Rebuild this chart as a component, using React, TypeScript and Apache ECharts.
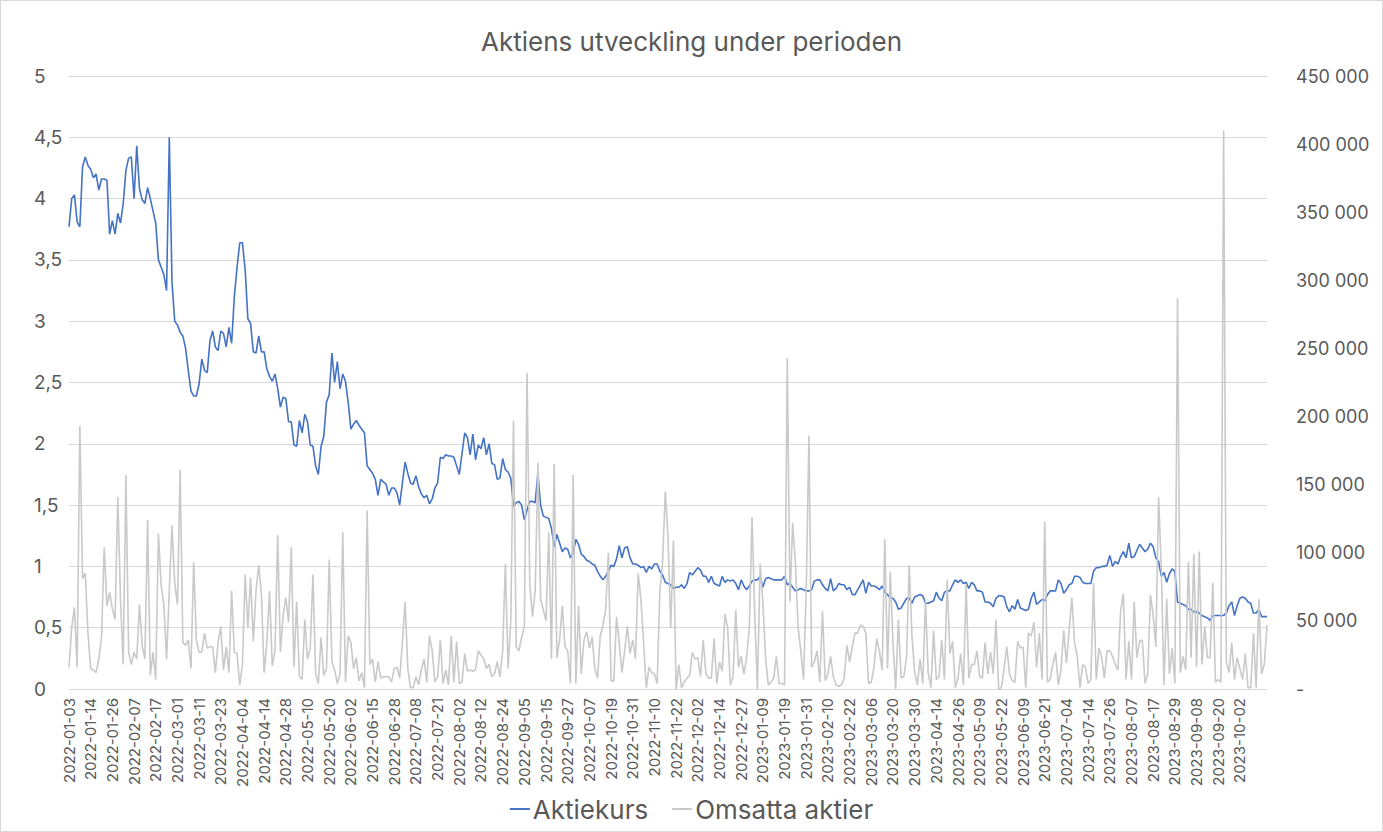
import React, { useEffect, useRef } from "react";
import * as echarts from "echarts";

const chartTitle = "Aktiens utveckling under perioden";
const seriesNames = ["Aktiekurs", "Omsatta aktier"];

// Dates shown on the x axis (every 8th trading day)
const tickDates = [
  "2022-01-03", "2022-01-14", "2022-01-26", "2022-02-07", "2022-02-17", "2022-03-01", "2022-03-11", "2022-03-23",
  "2022-04-04", "2022-04-14", "2022-04-28", "2022-05-10", "2022-05-20", "2022-06-02", "2022-06-15", "2022-06-28",
  "2022-07-08", "2022-07-21", "2022-08-02", "2022-08-12", "2022-08-24", "2022-09-05", "2022-09-15", "2022-09-27",
  "2022-10-07", "2022-10-19", "2022-10-31", "2022-11-10", "2022-11-22", "2022-12-02", "2022-12-14", "2022-12-27",
  "2023-01-09", "2023-01-19", "2023-01-31", "2023-02-10", "2023-02-22", "2023-03-06", "2023-03-20", "2023-03-30",
  "2023-04-14", "2023-04-26", "2023-05-09", "2023-05-22", "2023-06-09", "2023-06-21", "2023-07-04", "2023-07-14",
  "2023-07-26", "2023-08-07", "2023-08-17", "2023-08-29", "2023-09-08", "2023-09-20", "2023-10-02",
];

// Share price (SEK), one value per trading day
const price = [
  3.77, 4.0, 4.03, 3.81, 3.77, 4.26, 4.34, 4.27, 4.24, 4.17,
  4.2, 4.07, 4.16, 4.16, 4.15, 3.71, 3.82, 3.71, 3.88, 3.8,
  3.96, 4.23, 4.33, 4.34, 4.0, 4.43, 4.08, 3.99, 3.96, 4.09,
  4.0, 3.9, 3.8, 3.5, 3.44, 3.38, 3.25, 4.5, 3.32, 3.0,
  2.97, 2.91, 2.88, 2.78, 2.6, 2.43, 2.39, 2.39, 2.49, 2.69,
  2.6, 2.58, 2.84, 2.92, 2.79, 2.76, 2.92, 2.9, 2.79, 2.95,
  2.82, 3.2, 3.44, 3.64, 3.64, 3.42, 3.02, 2.98, 2.75, 2.74,
  2.88, 2.75, 2.75, 2.61, 2.55, 2.51, 2.57, 2.45, 2.3, 2.38,
  2.37, 2.18, 2.18, 1.99, 1.98, 2.19, 2.09, 2.24, 2.18, 1.99,
  1.98, 1.82, 1.75, 1.98, 2.06, 2.34, 2.4, 2.74, 2.5, 2.67,
  2.45, 2.57, 2.51, 2.34, 2.12, 2.16, 2.19, 2.15, 2.12, 2.09,
  1.82, 1.79, 1.76, 1.71, 1.58, 1.71, 1.69, 1.67, 1.58, 1.64,
  1.64, 1.6, 1.5, 1.68, 1.85, 1.76, 1.68, 1.67, 1.74, 1.65,
  1.59, 1.56, 1.58, 1.51, 1.55, 1.64, 1.68, 1.89, 1.88, 1.91,
  1.9, 1.9, 1.89, 1.82, 1.75, 1.92, 2.09, 2.05, 1.91, 2.08,
  1.87, 1.99, 1.96, 2.05, 1.91, 2.0, 1.84, 1.83, 1.71, 1.72,
  1.88, 1.79, 1.77, 1.72, 1.49, 1.52, 1.53, 1.5, 1.38, 1.46,
  1.53, 1.53, 1.52, 1.76, 1.5, 1.41, 1.4, 1.39, 1.31, 1.16,
  1.26, 1.19, 1.12, 1.15, 1.14, 1.07, 1.11, 1.22, 1.18, 1.1,
  1.08, 1.05, 1.04, 1.02, 1.01, 0.96, 0.92, 0.89, 0.92, 0.96,
  1.01, 1.0, 1.06, 1.17, 1.07, 1.15, 1.16, 1.07, 1.02, 1.02,
  1.01, 0.99, 1.0, 0.95, 1.0, 0.98, 1.02, 1.02, 0.96, 0.93,
  0.87, 0.86, 0.85, 0.82, 0.83, 0.83, 0.85, 0.82, 0.86, 0.95,
  0.93, 0.96, 0.99, 0.97, 0.92, 0.92, 0.87, 0.92, 0.86, 0.85,
  0.84, 0.92, 0.87, 0.89, 0.88, 0.89, 0.86, 0.81, 0.89, 0.84,
  0.81, 0.84, 0.88, 0.89, 0.89, 0.92, 0.83, 0.9, 0.91, 0.9,
  0.89, 0.89, 0.89, 0.89, 0.92, 0.85, 0.86, 0.83, 0.8, 0.81,
  0.82, 0.81, 0.8, 0.8, 0.81, 0.88, 0.89, 0.89, 0.85, 0.82,
  0.8, 0.9, 0.8, 0.82, 0.86, 0.85, 0.85, 0.81, 0.83, 0.77,
  0.77, 0.81, 0.85, 0.89, 0.78, 0.87, 0.84, 0.84, 0.83, 0.81,
  0.84, 0.79, 0.77, 0.74, 0.74, 0.71, 0.65, 0.66, 0.7, 0.74,
  0.74, 0.7, 0.75, 0.76, 0.77, 0.76, 0.7, 0.7, 0.71, 0.72,
  0.79, 0.74, 0.72, 0.79, 0.8, 0.8, 0.85, 0.89, 0.87, 0.89,
  0.86, 0.87, 0.82, 0.87, 0.85, 0.8, 0.8, 0.79, 0.71, 0.71,
  0.7, 0.67, 0.74, 0.76, 0.76, 0.75, 0.67, 0.63, 0.68, 0.65,
  0.73, 0.66, 0.65, 0.64, 0.65, 0.74, 0.79, 0.69, 0.71, 0.73,
  0.72, 0.77, 0.8, 0.8, 0.8, 0.89, 0.86, 0.78, 0.81, 0.85,
  0.86, 0.92, 0.92, 0.91, 0.87, 0.86, 0.86, 0.86, 0.96, 0.99,
  0.99, 1.0, 1.0, 1.01, 1.09, 1.0, 1.04, 1.02, 1.08, 1.12,
  1.07, 1.19, 1.07, 1.08, 1.13, 1.18, 1.15, 1.12, 1.14, 1.19,
  1.16, 1.07, 1.04, 0.92, 0.95, 0.87, 0.94, 0.98, 0.96, 0.71,
  0.7, 0.69, 0.68, 0.65, 0.65, 0.63, 0.63, 0.62, 0.6, 0.59,
  0.58, 0.56, 0.6, 0.6, 0.6, 0.6, 0.6, 0.62, 0.68, 0.71,
  0.6, 0.68, 0.74, 0.75, 0.74, 0.71, 0.7, 0.62, 0.62, 0.65,
  0.59, 0.59, 0.59,
];

// Traded shares per day
const volume = [
  16000, 45000, 60000, 16000, 193000, 81000, 85000, 41000, 15000, 14000,
  12000, 22000, 38000, 104000, 61000, 71000, 59000, 51000, 141000, 66000,
  18000, 157000, 27000, 18000, 27000, 22000, 62000, 32000, 22000, 124000,
  10000, 27000, 7000, 114000, 76000, 62000, 22000, 72000, 120000, 78000,
  62000, 161000, 34000, 32000, 36000, 15000, 93000, 36000, 27000, 27000,
  41000, 30000, 31000, 31000, 12000, 34000, 46000, 14000, 31000, 12000,
  72000, 27000, 26000, 3000, 18000, 84000, 45000, 82000, 35000, 72000,
  91000, 69000, 12000, 34000, 72000, 17000, 28000, 113000, 27000, 54000,
  67000, 49000, 104000, 16000, 64000, 9000, 7000, 51000, 22000, 30000,
  84000, 11000, 4000, 38000, 10000, 15000, 95000, 20000, 14000, 4000,
  11000, 115000, 5000, 39000, 34000, 15000, 23000, 6000, 12000, 1000,
  131000, 18000, 22000, 5000, 20000, 8000, 9000, 9000, 9000, 5000,
  15000, 16000, 8000, 34000, 64000, 15000, 1000, 1000, 9000, 3000,
  14000, 22000, 5000, 39000, 28000, 5000, 9000, 36000, 4000, 14000,
  3000, 39000, 5000, 35000, 4000, 5000, 26000, 13000, 14000, 13000,
  14000, 28000, 25000, 22000, 15000, 18000, 9000, 11000, 20000, 9000,
  28000, 92000, 15000, 50000, 197000, 31000, 28000, 38000, 46000, 232000,
  77000, 53000, 72000, 166000, 66000, 58000, 50000, 115000, 22000, 165000,
  23000, 36000, 61000, 31000, 28000, 4000, 157000, 4000, 61000, 11000,
  36000, 42000, 30000, 38000, 15000, 8000, 39000, 47000, 58000, 100000,
  6000, 6000, 53000, 34000, 12000, 28000, 46000, 26000, 36000, 22000,
  85000, 66000, 34000, 1000, 16000, 12000, 11000, 4000, 72000, 93000,
  145000, 112000, 45000, 109000, 0, 18000, 1000, 5000, 8000, 10000,
  27000, 22000, 23000, 9000, 36000, 11000, 8000, 8000, 37000, 4000,
  20000, 13000, 55000, 45000, 3000, 9000, 58000, 16000, 24000, 11000,
  23000, 45000, 126000, 55000, 0, 92000, 64000, 23000, 3000, 5000,
  8000, 24000, 4000, 4000, 3000, 243000, 64000, 122000, 93000, 45000,
  28000, 7000, 72000, 186000, 16000, 20000, 28000, 5000, 57000, 6000,
  11000, 24000, 9000, 3000, 2000, 3000, 8000, 32000, 20000, 31000,
  41000, 41000, 47000, 46000, 41000, 4000, 5000, 16000, 37000, 28000,
  14000, 110000, 15000, 86000, 34000, 0, 51000, 8000, 9000, 23000,
  91000, 39000, 12000, 3000, 22000, 4000, 65000, 12000, 1000, 43000,
  7000, 9000, 36000, 7000, 80000, 26000, 35000, 1000, 8000, 26000,
  3000, 77000, 8000, 18000, 18000, 28000, 9000, 8000, 34000, 11000,
  27000, 11000, 51000, 0, 1000, 15000, 31000, 11000, 6000, 5000,
  35000, 30000, 31000, 1000, 41000, 39000, 49000, 16000, 41000, 7000,
  123000, 5000, 7000, 18000, 27000, 3000, 14000, 43000, 19000, 43000,
  67000, 34000, 24000, 1000, 18000, 16000, 4000, 7000, 78000, 7000,
  30000, 23000, 8000, 28000, 28000, 24000, 18000, 14000, 57000, 70000,
  7000, 35000, 7000, 64000, 23000, 35000, 36000, 4000, 11000, 69000,
  54000, 31000, 141000, 89000, 3000, 66000, 11000, 30000, 4000, 287000,
  12000, 24000, 14000, 93000, 23000, 99000, 16000, 101000, 18000, 46000,
  23000, 23000, 78000, 5000, 7000, 5000, 410000, 20000, 12000, 34000,
  7000, 23000, 15000, 7000, 26000, 1000, 1000, 41000, 1000, 66000,
  11000, 18000, 47000,
];

const LABEL_STEP = 8;

// Category list: the labelled dates plus the trading days in between
function buildCategories(): string[] {
  const out: string[] = [];
  for (let k = 0; k < tickDates.length; k++) {
    const [y, m, d] = tickDates[k].split("-").map(Number);
    let dt = new Date(Date.UTC(y, m - 1, d));
    out.push(tickDates[k]);
    const fill = k < tickDates.length - 1 ? LABEL_STEP - 1 : price.length - 1 - k * LABEL_STEP;
    for (let s = 0; s < fill; s++) {
      do {
        dt = new Date(dt.getTime() + 86400000);
      } while (dt.getUTCDay() === 0 || dt.getUTCDay() === 6);
      out.push(dt.toISOString().slice(0, 10));
    }
  }
  return out;
}

const FONT = "Inter, 'Noto Sans', sans-serif";
const TEXT = "#595959";

export default function App() {
  const ref = useRef<HTMLDivElement>(null);

  useEffect(() => {
    document.body.style.margin = "0";
    if (!ref.current) return;
    const chart = echarts.init(ref.current, null, { renderer: "svg" });
    const categories = buildCategories();
    const labelSet = new Set(tickDates);
    chart.setOption({
      animation: false,
      backgroundColor: "#ffffff",
      textStyle: { fontFamily: FONT },
      title: {
        text: chartTitle,
        left: "center",
        top: 22,
        textStyle: { fontFamily: FONT, fontSize: 26, fontWeight: "normal", color: TEXT },
      },
      legend: {
        data: seriesNames,
        bottom: 4,
        left: "center",
        icon: "rect",
        itemWidth: 20,
        itemHeight: 2,
        itemGap: 24,
        textStyle: { fontFamily: FONT, fontSize: 26, color: TEXT, padding: [0, 0, 0, -2] },
      },
      grid: { left: 68, right: 115, top: 75, bottom: 142, containLabel: false },
      xAxis: {
        type: "category",
        data: categories,
        boundaryGap: false,
        axisLine: { show: true, lineStyle: { color: "#d9d9d9", width: 1 } },
        axisTick: { show: false },
        axisLabel: {
          interval: (idx: number, val: string) => labelSet.has(val),
          rotate: 90,
          fontFamily: FONT,
          fontSize: 15,
          color: TEXT,
          margin: 9,
        },
      },
      yAxis: [
        {
          type: "value",
          min: 0,
          max: 5,
          interval: 0.5,
          axisLine: { show: false },
          axisTick: { show: false },
          splitLine: { show: true, lineStyle: { color: "#d9d9d9", width: 1 } },
          axisLabel: {
            fontFamily: FONT,
            fontSize: 19,
            color: TEXT,
            margin: 35,
            align: "left",
            formatter: (v: number) => String(v).replace(".", ","),
          },
        },
        {
          type: "value",
          min: 0,
          max: 450000,
          interval: 50000,
          position: "right",
          axisLine: { show: false },
          axisTick: { show: false },
          splitLine: { show: false },
          axisLabel: {
            fontFamily: FONT,
            fontSize: 18,
            color: TEXT,
            margin: 29,
            formatter: (v: number) =>
              v === 0 ? "-" : String(v).replace(/\B(?=(\d{3})+(?!\d))/g, " "),
          },
        },
      ],
      series: [
        {
          name: seriesNames[0],
          type: "line",
          yAxisIndex: 0,
          data: price,
          symbol: "none",
          lineStyle: { color: "#4472C4", width: 1.6 },
          itemStyle: { color: "#4472C4" },
          z: 2,
        },
        {
          name: seriesNames[1],
          type: "line",
          yAxisIndex: 1,
          data: volume,
          symbol: "none",
          lineStyle: { color: "#C9C9C9", width: 1.6 },
          itemStyle: { color: "#C9C9C9" },
          z: 3,
        },
      ],
    });
    return () => chart.dispose();
  }, []);

  return (
    <div
      ref={ref}
      style={{
        width: 1383,
        height: 832,
        boxSizing: "border-box",
        border: "1px solid #d9d9d9",
        background: "#fff",
      }}
    />
  );
}
